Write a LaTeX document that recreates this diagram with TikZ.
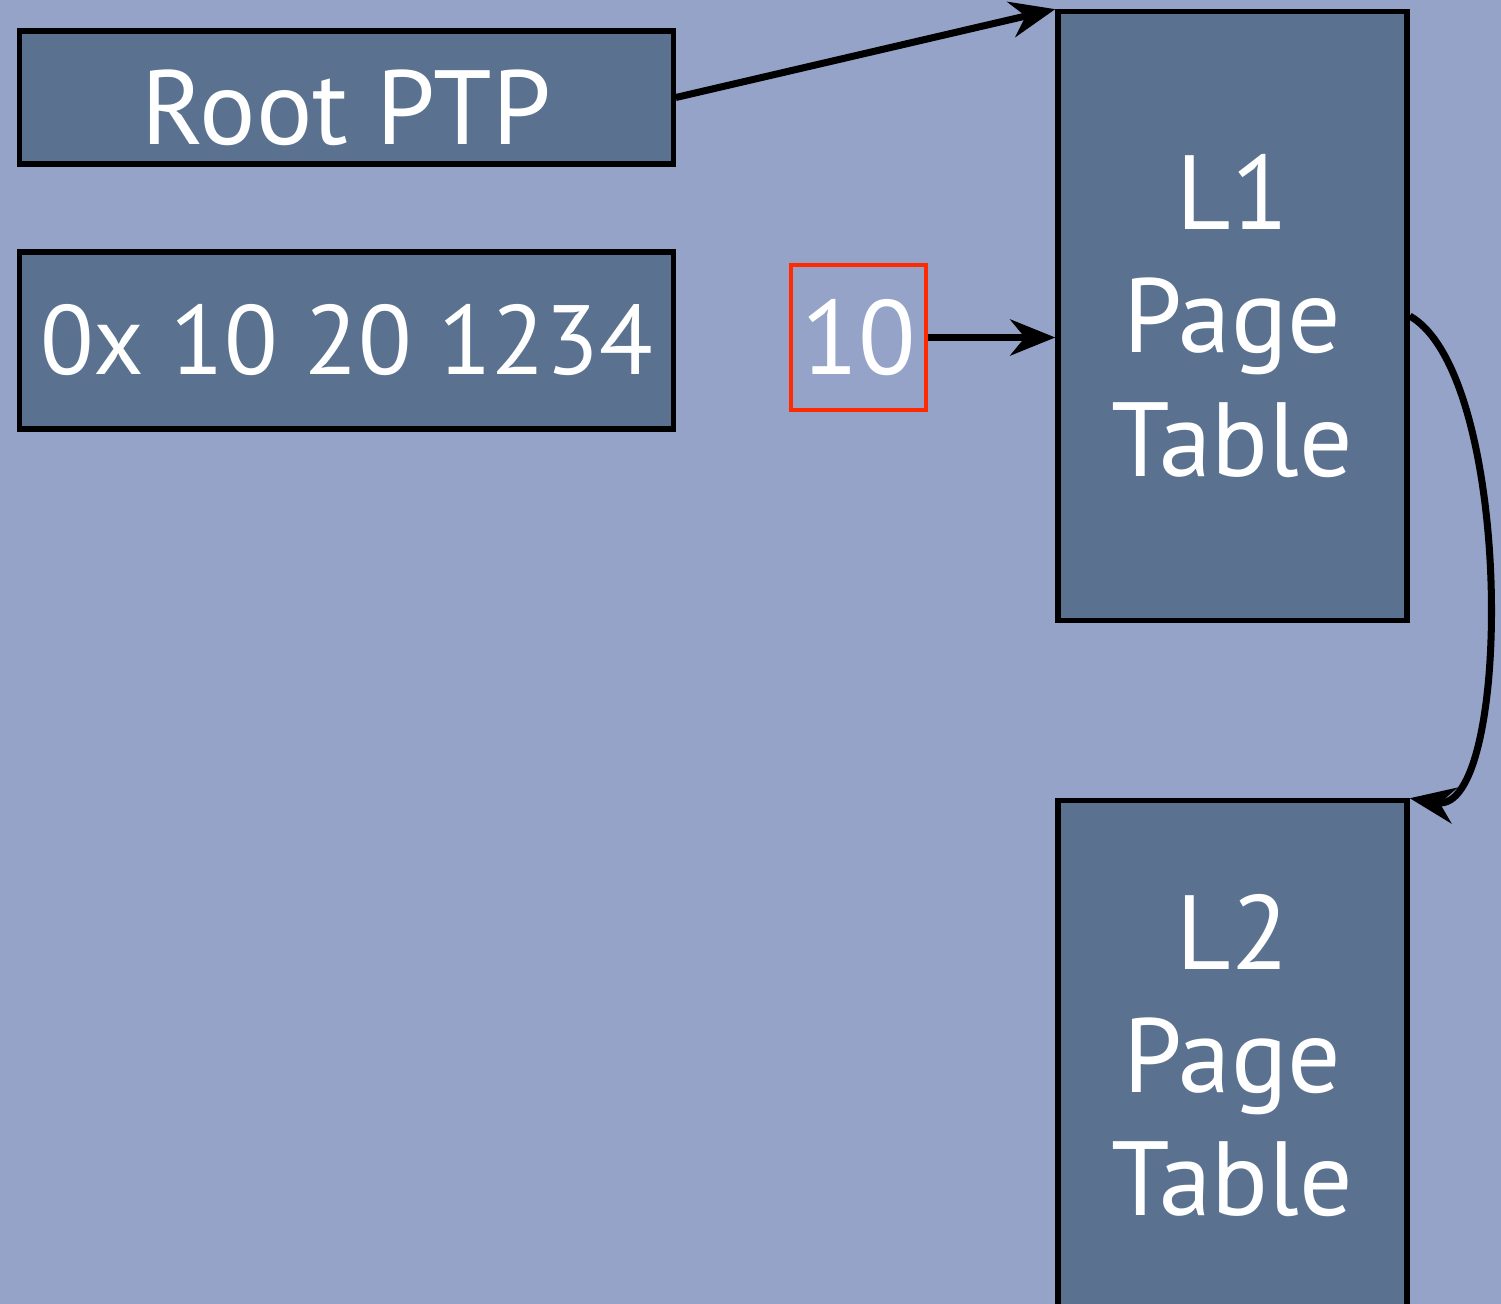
\documentclass[tikz,border=0pt]{standalone}
\usepackage{fontspec}
\setmainfont{PT Sans}
\usetikzlibrary{arrows.meta}
\definecolor{slidebg}{HTML}{95A3C8}
\definecolor{boxfill}{HTML}{5A7290}
\definecolor{hilite}{HTML}{FF2A00}

\begin{document}
\begin{tikzpicture}[x=0.01cm,y=-0.01cm,
    tbl/.style={draw=black, line width=1.5pt, fill=boxfill, text=white,
        font=\fontsize{30}{35}\selectfont, align=center, inner sep=0pt},
    ptr/.style={-{Stealth[length=0.45cm,width=0.36cm]}, line width=2pt}]
\fill[slidebg] (0,0) rectangle (1501,1304);
\useasboundingbox (0,0) rectangle (1501,1304);

\node[tbl, minimum width=6.53cm, minimum height=1.33cm, text height=0.95cm] (root) at (346.5,97.5) {Root PTP};
\node[tbl, minimum width=6.53cm, minimum height=1.77cm, font=\fontsize{28}{33}\selectfont] (vaddr) at (346.5,340.5) {0x 10 20 1234};
\node[tbl, draw=hilite, fill=none, line width=1.2pt, minimum width=1.35cm, minimum height=1.45cm] (idx) at (858.5,337.5) {10};

\node[tbl, minimum width=3.49cm, minimum height=6.08cm] (l1) at (1232.5,316) {L1\\Page\\Table};
\node[tbl, minimum width=3.49cm, minimum height=5.09cm] (l2) at (1232.5,1055.5) {L2\\Page\\Table};

\draw[ptr] (root.east) -- (l1.north west);
\draw[ptr] (idx.east) -- (idx.east -| l1.west);
\draw[ptr] (l1.east) .. controls +(105,60) and +(103,17) .. (l2.north east);
\end{tikzpicture}
\end{document}
